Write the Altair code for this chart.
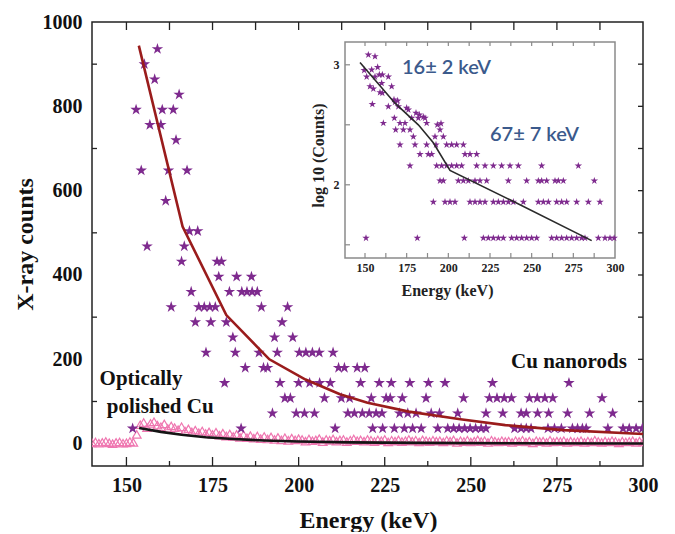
import altair as alt
import pandas as pd

SERIF = "Liberation Serif"
STAR = ("M0,-1L0.2245,-0.309L0.951,-0.309L0.363,0.118L0.588,0.809L0,0.382"
        "L-0.588,0.809L-0.363,0.118L-0.951,-0.309L-0.2245,-0.309Z")

# ---------------- main panel data ----------------
# Cu nanorods, scattered high-count points
nano_top_energy = [159.0, 155.2, 158.2, 165.3, 152.8, 160.4, 163.6, 156.8, 160.0, 164.4,
                   154.3, 162.2, 167.6, 161.4, 168.3, 170.7, 156.0, 166.8, 166.0, 176.3, 177.6]
nano_top_counts = [936, 900, 864, 828, 792, 792, 792, 756, 756, 720,
                   648, 648, 648, 576, 504, 504, 468, 468, 432, 432, 432]
# Cu nanorods, rows of equal counts
nano_row_levels = [396, 360, 324, 288, 252, 216, 180, 144, 108, 72, 36]
nano_row_energies = [
    [176.8, 182.0, 186.3],
    [168.8, 179.9, 183.5, 185.0, 186.5, 188.0],
    [163.0, 171.0, 172.6, 174.2, 175.8, 189.2, 196.8],
    [170.0, 174.5, 179.0, 195.2],
    [180.9, 193.0, 198.3],
    [173.1, 181.6, 188.5, 193.8, 200.2, 202.1, 204.0, 206.0, 210.0],
    [184.5, 189.8, 191.0, 211.6, 213.3, 217.0, 219.2],
    [178.5, 194.6, 200.0, 203.2, 206.1, 209.2, 218.0, 223.4, 226.9, 232.3, 237.7, 242.5,
     256.3, 278.5],
    [196.0, 197.6, 207.5, 212.4, 214.8, 221.1, 225.4, 226.6, 230.1, 237.0, 247.9, 255.4,
     257.6, 259.7, 261.8, 267.0, 269.3, 271.5, 273.8, 288.1],
    [192.4, 199.3, 201.7, 204.6, 214.3, 216.2, 218.5, 220.5, 222.5, 224.2, 229.3, 231.7,
     234.1, 238.5, 240.9, 246.2, 254.4, 259.3, 264.6, 266.1, 269.4, 272.6, 278.1, 284.5, 291.2],
    [151.8, 183.3, 210.6, 221.5, 224.4, 227.8, 230.7, 233.1, 235.6, 240.4, 243.3, 245.0,
     246.6, 248.2, 249.8, 251.4, 253.0, 254.4, 262.7, 264.6, 266.1, 267.5, 272.4, 274.3,
     276.3, 279.5, 281.0, 282.4, 283.5, 289.8, 294.2, 296.0, 298.0, 299.8],
]

# fit to Cu nanorods (red)
red_energy = [153.6, 166.3, 179.0, 191.5, 202.0, 212.0, 220.0, 232.0, 247.0, 260.0, 277.0, 300.0]
red_counts = [944, 515, 305, 200, 152, 117, 97, 76, 58, 44, 32, 23]

# fit to optically polished Cu (black)
black_energy = [153.7, 160.0, 166.0, 173.0, 181.0, 190.0, 200.0, 215.0, 235.0, 260.0, 300.0]
black_counts = [37, 28, 21, 15, 11, 7.5, 5, 3, 1.8, 1, 0.5]

# optically polished Cu (pink triangles), one value per keV from 140 to 300
pink_energy = list(range(140, 301))
pink_counts = [
    2, 4, 1, 3, 5, 2, 0, 3, 4, 1, 2, 5, 3,
    22, 45, 50, 38, 48, 52, 44, 40, 47, 36, 42, 38, 33, 40, 30, 35, 28, 32, 26, 30,
    24, 28, 22, 27, 20, 25, 18, 23, 17, 22, 15, 21, 14, 19, 13, 18, 12, 17, 11, 16,
    10, 15, 9, 14, 8, 13, 9, 12,
    10, 6, 11, 7, 9, 12, 5, 10, 8, 11, 6, 9, 10, 5, 8, 11, 7, 9, 6, 10,
    8, 5, 9, 7, 10, 4, 8, 6, 9, 5, 7, 10, 6, 8, 4, 9, 7, 5, 8, 6,
    7, 4, 8, 6, 9, 3, 7, 5, 8, 4, 6, 9, 5, 7, 3, 8, 6, 4, 7, 5,
    6, 3, 7, 5, 8, 4, 6, 2, 7, 5, 6, 3, 8, 4, 6, 5, 7, 3, 6, 4,
    5, 7, 3, 6, 4, 8, 5, 3, 6, 4, 7, 5, 2, 6, 4, 5, 7, 3, 6, 4,
]

x_ticks = [150, 175, 200, 225, 250, 275, 300]
x_minor = [162.5, 187.5, 212.5, 237.5, 262.5, 287.5]
y_ticks = [0, 200, 400, 600, 800, 1000]
y_minor = [100, 300, 500, 700, 900]
y_all = [100, 200, 300, 400, 500, 600, 700, 800, 900]

# ---------------- inset data (log10 counts) ----------------
inset_top_energy = [152, 156, 149.5, 154, 157.6, 151, 156, 160.4, 164, 158.6,
                    153, 160, 166, 159, 160.4, 154.4, 155, 164, 168, 169.6,
                    167.4, 170, 161, 167.6, 171, 174, 175, 176, 180.6, 182.6,
                    185, 168.4, 173, 177, 178, 182, 186, 187, 193.4, 195.6,
                    179, 192, 197, 195]
inset_top_log = [3.083, 3.07, 2.955, 2.958, 2.98, 2.90, 2.90, 2.917, 2.90, 2.917,
                 2.82, 2.847, 2.82, 2.77, 2.764, 2.672, 2.80, 2.653, 2.69, 2.70,
                 2.71, 2.653, 2.514, 2.556, 2.514, 2.514, 2.64, 2.625, 2.598, 2.583,
                 2.565, 2.459, 2.459, 2.459, 2.556, 2.556, 2.556, 2.514, 2.50, 2.511,
                 2.401, 2.401, 2.401, 2.459]
inset_row_levels = [2.334, 2.255, 2.158, 2.033, 1.857, 1.556]
inset_row_energies = [
    [171, 180, 187, 192.6, 199, 202, 205, 209],
    [183, 188, 190, 210, 213, 217],
    [177, 193, 196, 199, 202, 205, 208, 217, 222, 227, 232, 237, 242, 256, 278],
    [195, 197, 206, 209, 212, 216, 219, 223, 236, 247, 254, 256, 259, 264, 266, 269, 287.6],
    [191, 198, 201, 204, 213, 216, 219, 222, 227, 230, 233, 236, 239, 245, 254, 257, 260,
     265, 268, 271, 277, 284, 291],
    [150.6, 181.4, 209.6, 221, 224, 227, 230, 233, 238, 241, 244, 247, 250, 253, 262, 265,
     268, 271, 274, 277, 280, 282, 290, 294, 297, 299.5],
]
inset_fit_energy = [147, 168, 182, 191, 201, 237, 286]
inset_fit_log = [3.02, 2.68, 2.50, 2.35, 2.12, 1.875, 1.535]

inset_x_ticks = [150, 175, 200, 225, 250, 275, 300]
inset_x_minor = [150, 162.5, 175, 187.5, 200, 212.5, 225, 237.5, 250, 262.5, 275, 287.5]
inset_y_ticks = [2, 3]
inset_y_minor = [1.5, 2, 2.5, 3]

# ---------------- tables ----------------
ne, nc = list(nano_top_energy), list(nano_top_counts)
for lvl, es in zip(nano_row_levels, nano_row_energies):
    ne += es
    nc += [lvl] * len(es)
nano_df = pd.DataFrame({"x": ne, "y": nc})
red_df = pd.DataFrame({"x": red_energy, "y": red_counts})
black_df = pd.DataFrame({"x": black_energy, "y": black_counts})
pink_df = pd.DataFrame({"x": pink_energy, "y": pink_counts})

ie, il = list(inset_top_energy), list(inset_top_log)
for lvl, es in zip(inset_row_levels, inset_row_energies):
    ie += es
    il += [lvl] * len(es)
inset_df = pd.DataFrame({"x": ie, "y": il})
inset_fit_df = pd.DataFrame({"x": inset_fit_energy, "y": inset_fit_log})

W, H = 551, 444
FRAME = "#222222"

# ---------------- main scales / axes ----------------
xs = alt.Scale(domain=[140, 300], nice=False, zero=False)
ys = alt.Scale(domain=[-53, 1000], nice=False, zero=False)
xaxis = alt.Axis(values=x_ticks, orient="bottom", format="d", grid=False, domain=False,
                 ticks=False, tickSize=0, labelFlush=False, labelFont=SERIF,
                 labelFontWeight="bold", labelFontSize=20, labelColor="#111", labelPadding=9,
                 title="Energy (keV)", titleFont=SERIF, titleFontWeight="bold",
                 titleFontSize=24, titleColor="#111", titleX=276, titleY=54,
                 titleBaseline="middle", titleAlign="center")
yaxis = alt.Axis(values=y_ticks, orient="left", format="d", grid=False, domain=False,
                 ticks=False, tickSize=0, labelFlush=False, labelFont=SERIF,
                 labelFontWeight="bold", labelFontSize=20, labelColor="#111", labelPadding=10,
                 title="X-ray counts", titleFont=SERIF, titleFontWeight="bold",
                 titleFontSize=24, titleColor="#111", titleX=-67, titleY=222,
                 titleAngle=-90, titleBaseline="middle", titleAlign="center")


def X(f="x"):
    return alt.X(f + ":Q", scale=xs, axis=xaxis)


def Y(f="y"):
    return alt.Y(f + ":Q", scale=ys, axis=yaxis)


pink = alt.Chart(pink_df).mark_point(shape="triangle-up", filled=False, color="#ef76b0",
                                     strokeWidth=1.2, size=75, opacity=1, clip=True).encode(
    x=X(), y=Y())
stars = alt.Chart(nano_df).mark_point(shape=STAR, filled=True, color="#7e2a8e", size=145,
                                      opacity=1, clip=True).encode(x=X(), y=Y())
black = alt.Chart(black_df).mark_line(color="#151515", strokeWidth=2.6, clip=True).encode(
    x=X(), y=Y())
red = alt.Chart(red_df).mark_line(color="#9a1c1c", strokeWidth=2.6, clip=True).encode(
    x=X(), y=Y())

def xtick_rule(vals, y0, y1):
    return alt.Chart(pd.DataFrame({"x": vals})).mark_rule(color=FRAME, strokeWidth=1.3).encode(
        x=X(), y=alt.value(y0), y2=alt.value(y1))

def ytick_rule(vals, x0, x1):
    return alt.Chart(pd.DataFrame({"y": vals})).mark_rule(color=FRAME, strokeWidth=1.3).encode(
        y=Y(), x=alt.value(x0), x2=alt.value(x1))

ticks = [
    xtick_rule(x_ticks[:-1], H - 9, H),
    xtick_rule(x_minor, H - 5, H),
    xtick_rule(x_ticks[:-1] + x_minor, 0, 8),
    ytick_rule(y_minor, 0, 5),
    ytick_rule(y_all, W - 5, W),
]

def label(text, x, y, align):
    return alt.Chart(pd.DataFrame({"t": [text]})).mark_text(
        font=SERIF, fontWeight="bold", fontSize=21, color="#111", align=align,
        baseline="middle").encode(x=alt.datum(x), y=alt.datum(y), text="t:N")

texts = [label("Optically", 142.2, 152.5, "left"),
         label("polished Cu", 144.3, 87, "left"),
         label("Cu nanorods", 295.3, 193.6, "right")]

main = alt.layer(pink, stars, black, red, *ticks, *texts)

# ---------------- inset ----------------
IL, IR, IT, IB = 253, 523, 20, 236
ixs = alt.Scale(domain=[138, 300], range=[IL, IR], nice=False, zero=False)
iys = alt.Scale(domain=[1.39, 3.19], range=[IB, IT], nice=False, zero=False)
ixaxis = alt.Axis(values=inset_x_ticks, orient="bottom", offset=-(H - IB), format="d",
                  grid=False, domain=False, ticks=False, tickSize=0, labelFlush=False,
                  labelFont=SERIF, labelFontWeight="bold", labelFontSize=12,
                  labelColor="#222", labelPadding=4, title="Energy (keV)", titleFont=SERIF,
                  titleFontWeight="bold", titleFontSize=16, titleColor="#222",
                  titleX=355, titleY=32, titleBaseline="middle", titleAlign="center")
iyaxis = alt.Axis(values=inset_y_ticks, orient="left", offset=-IL, format="d", grid=False,
                  domain=False, ticks=False, tickSize=0, labelFlush=False, labelFont=SERIF,
                  labelFontWeight="bold", labelFontSize=12, labelColor="#222", labelPadding=6,
                  title="log 10 (Counts)", titleFont=SERIF, titleFontWeight="bold",
                  titleFontSize=16, titleColor="#222", titleX=-27, titleY=133,
                  titleAngle=-90, titleBaseline="middle", titleAlign="center")


def IX(f="x"):
    return alt.X(f + ":Q", scale=ixs, axis=ixaxis)


def IY(f="y"):
    return alt.Y(f + ":Q", scale=iys, axis=iyaxis)


inset_frame = alt.Chart(pd.DataFrame({"x": [138], "x2": [300], "y": [1.39], "y2": [3.19]})).mark_rect(
    fill="white", fillOpacity=0, stroke="#8a8a8a", strokeWidth=1.5).encode(
    x=IX(), x2="x2:Q", y=IY(), y2="y2:Q")
inset_stars = alt.Chart(inset_df).mark_point(shape=STAR, filled=True, color="#7e2a8e", size=62,
                                             opacity=1).encode(x=IX(), y=IY())
inset_line = alt.Chart(inset_fit_df).mark_line(color="#2a2a2a", strokeWidth=1.6).encode(
    x=IX(), y=IY())

def ixtick(vals, y0, y1):
    return alt.Chart(pd.DataFrame({"x": vals})).mark_rule(color="#8a8a8a", strokeWidth=1.2).encode(
        x=IX(), y=alt.value(y0), y2=alt.value(y1))

def iytick(vals, x0, x1):
    return alt.Chart(pd.DataFrame({"y": vals})).mark_rule(color="#8a8a8a", strokeWidth=1.2).encode(
        y=IY(), x=alt.value(x0), x2=alt.value(x1))

inset_ticks = [ixtick(inset_x_minor, IB - 5, IB), ixtick(inset_x_minor, IT, IT + 4),
               iytick(inset_y_minor, IL, IL + 5)]

def itext(text, x, y):
    return alt.Chart(pd.DataFrame({"t": [text]})).mark_text(
        font="Lato", fontSize=20, fontWeight=600, color="#3b5a8c", align="left",
        baseline="middle").encode(x=alt.datum(x), y=alt.datum(y), text="t:N")

inset_texts = [itext("16\u00b1 2 keV", 172.2, 2.975), itext("67\u00b1 7 keV", 225, 2.417)]

inset = alt.layer(inset_frame, *inset_ticks, inset_stars, inset_line, *inset_texts)

chart = alt.layer(main, inset).resolve_scale(x="independent", y="independent").properties(
    width=W, height=H,
    autosize=alt.AutoSizeParams(type="none"),
    padding={"left": 84, "top": 14, "right": 24, "bottom": 66},
    background="white",
).configure_view(stroke=FRAME, strokeWidth=1.5)

chart.save("out.html", embed_options={"renderer": "svg", "actions": False})
